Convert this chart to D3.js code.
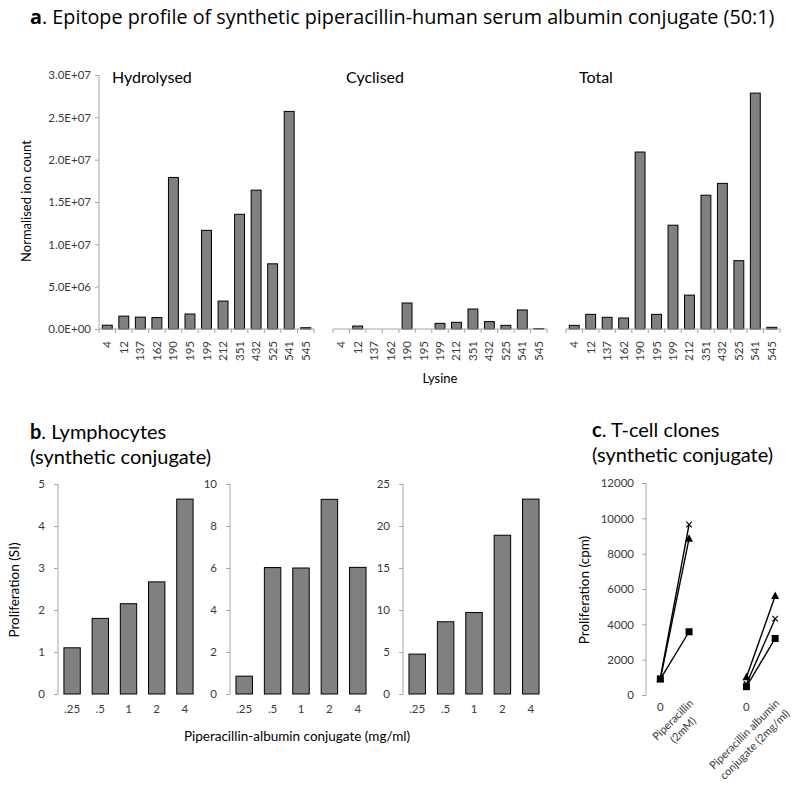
<!DOCTYPE html>
<html>
<head>
<meta charset="utf-8">
<script src="https://cdn.jsdelivr.net/npm/d3@7"></script>
<style>
  html, body { margin: 0; padding: 0; background: #fff; }
  svg { display: block; font-family: Lato, "Open Sans", sans-serif; }
</style>
</head>
<body>
<svg id="chart" width="800" height="787"></svg>
<script>
// ---------- Panel a data ----------
const lysines = ["4","12","137","162","190","195","199","212","351","432","525","541","545"];
const hydrolysed = [0.45e6, 1.52e6, 1.4e6, 1.35e6, 17.9e6, 1.77e6, 11.65e6, 3.3e6, 13.55e6, 16.4e6, 7.7e6, 25.7e6, 0.15e6];
const cyclised   = [0, 0.35e6, 0, 0, 3.07e6, 0, 0.67e6, 0.79e6, 2.36e6, 0.87e6, 0.43e6, 2.25e6, 0.05e6];
const total      = [0.43e6, 1.73e6, 1.38e6, 1.3e6, 20.9e6, 1.73e6, 12.26e6, 4.0e6, 15.8e6, 17.2e6, 8.07e6, 27.86e6, 0.2e6];
const aTickValues = [0, 5e6, 10e6, 15e6, 20e6, 25e6, 30e6];
const aTickLabels = ["0.0E+00","5.0E+06","1.0E+07","1.5E+07","2.0E+07","2.5E+07","3.0E+07"];
const aPanelNames = ["Hydrolysed","Cyclised","Total"];

// ---------- Panel b data ----------
const concentrations = [".25",".5","1","2","4"];
const lymphocyte1 = [1.1, 1.8, 2.15, 2.67, 4.64];
const lymphocyte2 = [0.85, 6.02, 6.0, 9.27, 6.03];
const lymphocyte3 = [4.75, 8.6, 9.7, 18.9, 23.2];
const bTicks1 = [0,1,2,3,4,5];
const bTicks2 = [0,2,4,6,8,10];
const bTicks3 = [0,5,10,15,20,25];

// ---------- Panel c data ----------
const cloneCategories = ["0","Piperacillin|(2mM)","","0","Piperacillin albumin|conjugate (2mg/ml)"];
const cloneTriangle = [[900, 8850], [1000, 5600]];
const cloneCross    = [[950, 9650], [620, 4320]];
const cloneSquare   = [[900, 3580], [470, 3200]];
const cTicks = [0,2000,4000,6000,8000,10000,12000];

const svg = d3.select("#chart");
const axisColor = "#a6a6a6";
const textColor = "#3a3a3a";
const barFill = "#808080";
const plain = d3.format("d");

// ---------- Panel a ----------
const title = svg.append("text").attr("x", 30).attr("y", 24).attr("font-size", 18).attr("fill", "#000")
  .attr("font-family", "'Open Sans', sans-serif")
  .call(t => { t.append("tspan").attr("font-weight", "bold").text("a");
               t.append("tspan").text(". Epitope profile of synthetic piperacillin-human serum albumin conjugate (50:1)"); });
{
  const w = title.node().getComputedTextLength();
  title.attr("font-size", 18 * 745 / w);
}

const aY = d3.scaleLinear().domain([0, 30e6]).range([329, 75]);
const aRanges = [[99, 314], [333, 547], [566, 780]];
const aSeries = [hydrolysed, cyclised, total];

const yAxA = svg.append("g").attr("transform", "translate(99,0)")
  .call(d3.axisLeft(aY).tickValues(aTickValues).tickSize(4).tickPadding(4)
    .tickFormat((d, i) => aTickLabels[i]));
yAxA.select(".domain").attr("stroke", axisColor).attr("d", `M0,${aY(30e6)}V${aY(0)}`);
yAxA.selectAll(".tick line").attr("stroke", axisColor);
yAxA.selectAll(".tick text").attr("font-size", 11.5).attr("fill", textColor).attr("font-family", "Lato, sans-serif");

aSeries.forEach((vals, k) => {
  const x = d3.scaleBand().domain(lysines).range(aRanges[k]).paddingInner(0.4).paddingOuter(0.2);
  const g = svg.append("g");
  g.selectAll("rect").data(vals).join("rect")
    .attr("x", (d, i) => x(lysines[i]))
    .attr("width", x.bandwidth())
    .attr("y", d => aY(d))
    .attr("height", d => aY(0) - aY(d))
    .attr("fill", barFill).attr("stroke", "#000").attr("stroke-width", 1)
    .attr("display", d => d > 0 ? null : "none");
  g.append("line").attr("x1", aRanges[k][0]).attr("x2", aRanges[k][1])
    .attr("y1", aY(0)).attr("y2", aY(0)).attr("stroke", axisColor);
  const step = (aRanges[k][1] - aRanges[k][0]) / lysines.length;
  d3.range(lysines.length + 1).forEach(i => {
    const xx = aRanges[k][0] + i * step;
    g.append("line").attr("x1", xx).attr("x2", xx).attr("y1", aY(0)).attr("y2", aY(0) + 4).attr("stroke", axisColor);
  });
  lysines.forEach(l => {
    const cx = x(l) + x.bandwidth() / 2;
    g.append("text").attr("transform", `translate(${cx + 4},${aY(0) + 12}) rotate(-90)`)
      .attr("text-anchor", "end").attr("font-size", 11.5).attr("fill", textColor).text(l);
  });
  svg.append("text").attr("x", aRanges[k][0] + 13).attr("y", 83).attr("font-size", 16).attr("fill", "#000").text(aPanelNames[k]);
});

svg.append("text").attr("transform", "translate(31,201) rotate(-90)").attr("text-anchor", "middle")
  .attr("font-size", 13).attr("fill", "#000").text("Normalised ion count");
svg.append("text").attr("x", 440).attr("y", 383).attr("text-anchor", "middle")
  .attr("font-size", 13).attr("fill", "#000").text("Lysine");

// ---------- Panel b ----------
svg.append("text").attr("x", 30).attr("y", 439).attr("font-size", 20).attr("fill", "#000")
  .call(t => { t.append("tspan").attr("font-weight", "bold").text("b");
               t.append("tspan").text(". Lymphocytes"); });
svg.append("text").attr("x", 30).attr("y", 464).attr("font-size", 20).attr("fill", "#000").text("(synthetic conjugate)");

const bData = [lymphocyte1, lymphocyte2, lymphocyte3];
const bTicks = [bTicks1, bTicks2, bTicks3];
const bRanges = [[58, 199], [230, 372], [403, 545]];
bData.forEach((vals, k) => {
  const tks = bTicks[k];
  const y = d3.scaleLinear().domain([0, tks[tks.length - 1]]).range([694, 484]);
  const x = d3.scaleBand().domain(concentrations).range(bRanges[k]).paddingInner(0.42).paddingOuter(0.21);
  const g = svg.append("g");
  const ax = g.append("g").attr("transform", `translate(${bRanges[k][0]},0)`)
    .call(d3.axisLeft(y).tickValues(tks).tickSize(4).tickPadding(9).tickFormat(plain));
  ax.select(".domain").attr("stroke", axisColor).attr("d", `M0,${y.range()[1]}V${y.range()[0]}`);
  ax.selectAll(".tick line").attr("stroke", axisColor);
  ax.selectAll(".tick text").attr("font-size", 11.5).attr("fill", textColor).attr("font-family", "Lato, sans-serif");
  g.selectAll("rect").data(vals).join("rect")
    .attr("x", (d, i) => x(concentrations[i]))
    .attr("width", x.bandwidth())
    .attr("y", d => y(d)).attr("height", d => y(0) - y(d))
    .attr("fill", barFill).attr("stroke", "#000").attr("stroke-width", 1);
  concentrations.forEach(c => {
    g.append("text").attr("x", x(c) + x.bandwidth() / 2).attr("y", 713).attr("text-anchor", "middle")
      .attr("font-size", 11.5).attr("fill", textColor).text(c);
  });
});
svg.append("text").attr("transform", "translate(19,590) rotate(-90)").attr("text-anchor", "middle")
  .attr("font-size", 13.5).attr("fill", "#000").text("Proliferation (SI)");
svg.append("text").attr("x", 297).attr("y", 741).attr("text-anchor", "middle")
  .attr("font-size", 13.5).attr("fill", "#000").text("Piperacillin-albumin conjugate (mg/ml)");

// ---------- Panel c ----------
svg.append("text").attr("x", 592).attr("y", 437).attr("font-size", 20).attr("fill", "#000")
  .call(t => { t.append("tspan").attr("font-weight", "bold").text("c");
               t.append("tspan").text(". T-cell clones"); });
svg.append("text").attr("x", 592).attr("y", 462).attr("font-size", 20).attr("fill", "#000").text("(synthetic conjugate)");

const cY = d3.scaleLinear().domain([0, 12000]).range([695, 483]);
const cX = d3.scaleBand().domain(d3.range(cloneCategories.length)).range([646, 789.5]);
const cxPos = i => cX(i) + cX.bandwidth() / 2;
const cAx = svg.append("g").attr("transform", "translate(646,0)")
  .call(d3.axisLeft(cY).tickValues(cTicks).tickSize(4).tickPadding(8).tickFormat(plain));
cAx.select(".domain").attr("stroke", axisColor).attr("d", `M0,${cY(12000)}V${cY(0)}`);
cAx.selectAll(".tick line").attr("stroke", axisColor);
cAx.selectAll(".tick text").attr("font-size", 11.5).attr("fill", textColor).attr("font-family", "Lato, sans-serif");

const groups = [[0, 1], [3, 4]];
const seriesList = [
  { data: cloneSquare, shape: "square" },
  { data: cloneCross, shape: "cross" },
  { data: cloneTriangle, shape: "triangle" }
];
const line = d3.line().x(d => d[0]).y(d => d[1]);
seriesList.forEach(s => {
  s.data.forEach((pair, gi) => {
    const pts = pair.map((v, j) => [cxPos(groups[gi][j]), cY(v)]);
    svg.append("path").attr("d", line(pts)).attr("fill", "none").attr("stroke", "#000").attr("stroke-width", 1.4);
    pts.forEach(p => {
      if (s.shape === "square") {
        svg.append("rect").attr("x", p[0] - 3.5).attr("y", p[1] - 3.5).attr("width", 7).attr("height", 7).attr("fill", "#000");
      } else if (s.shape === "triangle") {
        svg.append("path").attr("d", `M${p[0]},${p[1] - 4.5}L${p[0] + 4},${p[1] + 3}L${p[0] - 4},${p[1] + 3}Z`).attr("fill", "#000");
      } else {
        svg.append("path").attr("d", `M${p[0] - 2.8},${p[1] - 2.8}L${p[0] + 2.8},${p[1] + 2.8}M${p[0] - 2.8},${p[1] + 2.8}L${p[0] + 2.8},${p[1] - 2.8}`)
          .attr("stroke", "#000").attr("stroke-width", 1.1);
      }
    });
  });
});

cloneCategories.forEach((lab, i) => {
  if (!lab) return;
  const cx = cxPos(i);
  if (lab === "0") {
    svg.append("text").attr("x", cx).attr("y", 711).attr("text-anchor", "middle")
      .attr("font-size", 11.5).attr("fill", textColor).text(lab);
    return;
  }
  const lines = lab.split("|");
  const g = svg.append("g").attr("transform", `translate(${cx + 5},${704}) rotate(-45)`);
  const texts = lines.map((ln, j) => g.append("text").attr("y", j * 14.5).attr("font-size", 11)
    .attr("fill", textColor).attr("text-anchor", "middle").text(ln));
  const maxLen = d3.max(texts, t => t.node().getComputedTextLength());
  texts.forEach(t => t.attr("x", -maxLen / 2));
});

svg.append("text").attr("transform", "translate(589,590) rotate(-90)").attr("text-anchor", "middle")
  .attr("font-size", 13.5).attr("fill", "#000").text("Proliferation (cpm)");
</script>
</body>
</html>
